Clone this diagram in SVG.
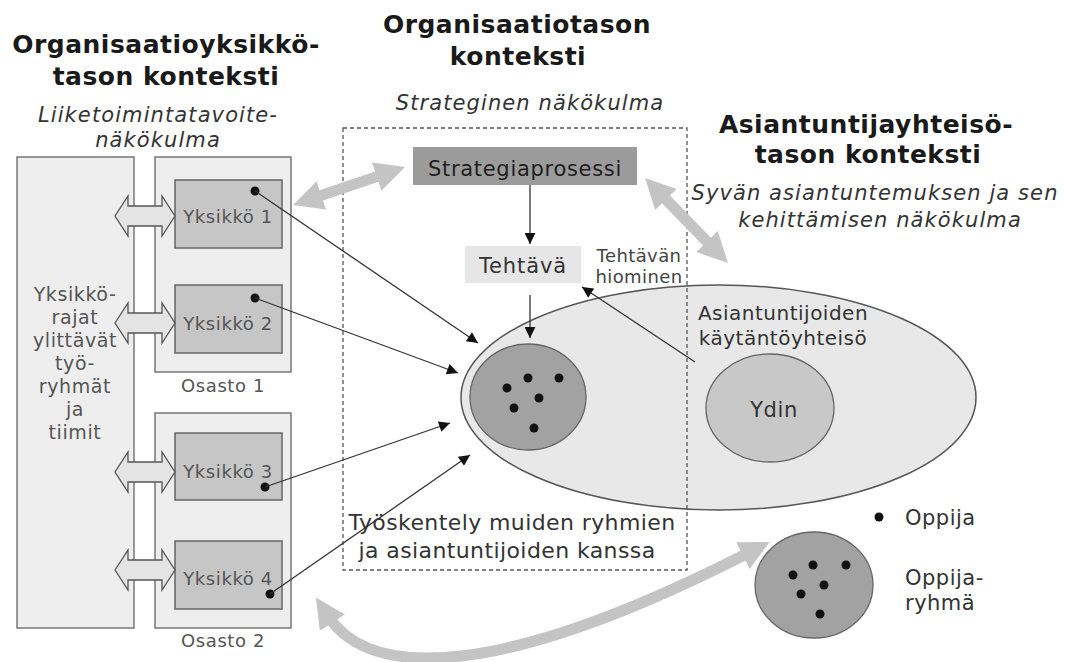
<svg xmlns="http://www.w3.org/2000/svg" width="1065" height="662" viewBox="0 0 1065 662">
<defs>
<style>
text{font-family:"DejaVu Sans","Liberation Sans",sans-serif}
.title{font-size:25px;font-weight:bold;letter-spacing:0.5px;fill:#1a1a1a;text-anchor:middle}
.sub{font-size:21px;font-style:italic;letter-spacing:1.1px;fill:#333;text-anchor:middle}
.lbl{font-size:18px;letter-spacing:0.6px;fill:#555;text-anchor:middle}
.lbl2{font-size:21px;letter-spacing:0.6px;fill:#333;text-anchor:middle}
.panel{fill:#eeeeee;stroke:#777;stroke-width:1.5}
.unit{fill:#c6c6c6;stroke:#666;stroke-width:1.5}
.dot{fill:#111}
.barrow{fill:#e4e4e4;stroke:#555;stroke-width:1.3}
.conn{stroke:#333;stroke-width:1.3;fill:none;marker-end:url(#ah)}
.big{stroke:#c4c4c4;stroke-width:11;fill:none;marker-start:url(#gh);marker-end:url(#gh)}
.grp{fill:#a2a2a2;stroke:#666;stroke-width:1.3}
</style>
<marker id="ah" viewBox="0 0 10 10" refX="10" refY="5" markerWidth="14" markerHeight="11" markerUnits="userSpaceOnUse" orient="auto"><path d="M0,0 L10,5 L0,10 z" fill="#111"/></marker>
<marker id="gh" viewBox="0 0 30 30" refX="8" refY="15" markerWidth="30" markerHeight="30" markerUnits="userSpaceOnUse" orient="auto-start-reverse"><path d="M0,0 L30,15 L0,30 z" fill="#c4c4c4"/></marker>
</defs>
<rect width="1065" height="662" fill="#fff"/>

<g id="titles">
<text class="title" x="166" y="53">Organisaatioyksikkö-</text>
<text class="title" x="166" y="85">tason konteksti</text>
<text class="sub" x="158" y="122">Liiketoimintatavoite-</text>
<text class="sub" x="158" y="147">näkökulma</text>
<text class="title" x="517" y="33">Organisaatiotason</text>
<text class="title" x="518" y="65">konteksti</text>
<text class="sub" x="530" y="110">Strateginen näkökulma</text>
<text class="title" x="866" y="133">Asiantuntijayhteisö-</text>
<text class="title" x="868" y="163">tason konteksti</text>
<text class="sub" x="875" y="200">Syvän asiantuntemuksen ja sen</text>
<text class="sub" x="880" y="227">kehittämisen näkökulma</text>
</g>

<g id="community">
<ellipse cx="718.5" cy="397.5" rx="257.5" ry="112.5" fill="#e8e8e8" stroke="#555" stroke-width="1.5"/>
<text class="lbl2" x="783" y="320" style="font-size:20px;letter-spacing:0.5px">Asiantuntijoiden</text>
<text class="lbl2" x="783" y="345" style="font-size:20px;letter-spacing:0.5px">käytäntöyhteisö</text>
</g>
<g id="ydin">
<ellipse cx="770" cy="408" rx="64" ry="54" fill="#c8c8c8" stroke="#666" stroke-width="1.3"/>
<text class="lbl2" x="774" y="417">Ydin</text>
</g>

<g id="left-panel">
<rect class="panel" x="17" y="157" width="117" height="471"/>
<text class="lbl" x="75" y="301" style="font-size:19px">Yksikkö-</text>
<text class="lbl" x="75" y="324" style="font-size:19px">rajat</text>
<text class="lbl" x="75" y="347" style="font-size:19px">ylittävät</text>
<text class="lbl" x="75" y="370" style="font-size:19px">työ-</text>
<text class="lbl" x="75" y="393" style="font-size:19px">ryhmät</text>
<text class="lbl" x="75" y="416" style="font-size:19px">ja</text>
<text class="lbl" x="75" y="439" style="font-size:19px">tiimit</text>
</g>

<g id="osasto1">
<rect class="panel" x="155" y="157" width="136" height="215"/>
<text class="lbl" x="223" y="392">Osasto 1</text>
</g>
<g id="osasto2">
<rect class="panel" x="155" y="413" width="136" height="215"/>
<text class="lbl" x="223" y="647">Osasto 2</text>
</g>

<g id="yksikko1">
<rect class="unit" x="175" y="180" width="107" height="68"/>
<text class="lbl" x="228" y="223">Yksikkö 1</text>
<circle class="dot" cx="255" cy="191" r="4.5"/>
</g>
<g id="yksikko2">
<rect class="unit" x="175" y="285" width="107" height="68"/>
<text class="lbl" x="228" y="330">Yksikkö 2</text>
<circle class="dot" cx="255" cy="298" r="4.5"/>
</g>
<g id="yksikko3">
<rect class="unit" x="175" y="433" width="107" height="67"/>
<text class="lbl" x="228" y="478">Yksikkö 3</text>
<circle class="dot" cx="265" cy="487" r="4.5"/>
</g>
<g id="yksikko4">
<rect class="unit" x="175" y="541" width="107" height="68"/>
<text class="lbl" x="228" y="585">Yksikkö 4</text>
<circle class="dot" cx="270" cy="594" r="4.5"/>
</g>

<g id="block-arrows">
<polygon class="barrow" points="115,216 128,196 128,206 162,206 162,196 175,216 162,236 162,226 128,226 128,236"/>
<polygon class="barrow" points="115,323 128,303 128,313 162,313 162,303 175,323 162,343 162,333 128,333 128,343"/>
<polygon class="barrow" points="115,472 128,452 128,462 162,462 162,452 175,472 162,492 162,482 128,482 128,492"/>
<polygon class="barrow" points="115,570 128,550 128,560 162,560 162,550 175,570 162,590 162,580 128,580 128,590"/>
</g>

<g id="strategiaprosessi">
<rect x="413" y="147" width="224" height="38" fill="#9b9b9b"/>
<text class="lbl2" x="525" y="176" style="fill:#1e1e1e;letter-spacing:0.7px">Strategiaprosessi</text>
</g>
<g id="tehtava">
<rect x="465" y="246" width="116" height="37" fill="#e6e6e6"/>
<text class="lbl2" x="523" y="273" style="letter-spacing:0.9px">Tehtävä</text>
</g>
<g id="tehtavan-hiominen">
<text class="lbl" x="639" y="262" style="fill:#444;letter-spacing:0.4px">Tehtävän</text>
<text class="lbl" x="639" y="283" style="fill:#444;letter-spacing:0.4px">hiominen</text>
</g>

<g id="tyoryhma">
<ellipse class="grp" cx="528" cy="397" rx="58" ry="53"/>
<circle class="dot" cx="507" cy="388" r="4.5"/>
<circle class="dot" cx="528" cy="378" r="4.5"/>
<circle class="dot" cx="559" cy="378" r="4.5"/>
<circle class="dot" cx="539" cy="398" r="4.5"/>
<circle class="dot" cx="514" cy="408" r="4.5"/>
<circle class="dot" cx="534" cy="428" r="4.5"/>
</g>

<g id="tyoskentely">
<text class="lbl2" x="512" y="530" style="font-size:22px;letter-spacing:0.4px">Työskentely muiden ryhmien</text>
<text class="lbl2" x="507" y="558" style="font-size:22px;letter-spacing:0.4px">ja asiantuntijoiden kanssa</text>
</g>

<g id="legend">
<circle class="dot" cx="879" cy="517" r="4.5"/>
<text class="lbl2" x="905" y="525" style="text-anchor:start;letter-spacing:0.5px">Oppija</text>
<ellipse class="grp" cx="814" cy="585" rx="59" ry="53"/>
<circle class="dot" cx="793" cy="575" r="4.5"/>
<circle class="dot" cx="813" cy="565" r="4.5"/>
<circle class="dot" cx="846" cy="565" r="4.5"/>
<circle class="dot" cx="824" cy="585" r="4.5"/>
<circle class="dot" cx="801" cy="594" r="4.5"/>
<circle class="dot" cx="820" cy="614" r="4.5"/>
<text class="lbl2" x="905" y="585" style="text-anchor:start;letter-spacing:0.5px">Oppija-</text>
<text class="lbl2" x="905" y="610" style="text-anchor:start;letter-spacing:0.5px">ryhmä</text>
</g>

<g id="connectors">
<rect x="343" y="128" width="344" height="442" fill="none" stroke="#555" stroke-width="1.3" stroke-dasharray="4,3"/>
<line class="conn" x1="530" y1="185" x2="530" y2="244"/>
<line class="conn" x1="530" y1="295" x2="530" y2="338"/>
<line class="conn" x1="255" y1="191" x2="478" y2="343"/>
<line class="conn" x1="255" y1="298" x2="458" y2="373"/>
<line class="conn" x1="265" y1="487" x2="450" y2="423"/>
<line class="conn" x1="270" y1="594" x2="470" y2="455"/>
<line class="conn" x1="695" y1="362" x2="582" y2="287"/>
<path class="big" d="M313.8,197.9 L384.2,174.1"/>
<path class="big" d="M660.4,193.7 L712.6,247.3"/>
<path class="big" d="M328,616 C370,680 500,680 750,552"/>
</g>
</svg>
